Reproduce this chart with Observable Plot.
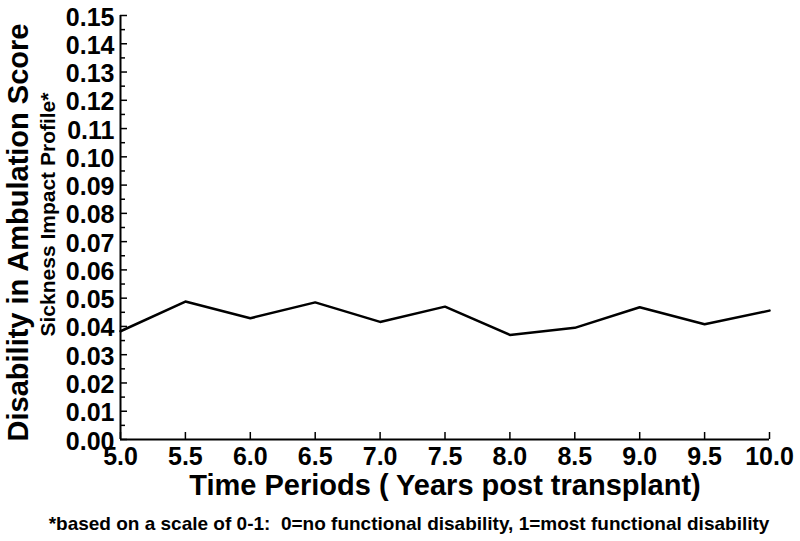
<!DOCTYPE html>
<html>
<head>
<meta charset="utf-8">
<script src="https://cdn.jsdelivr.net/npm/d3@7"></script>
<script src="https://cdn.jsdelivr.net/npm/@observablehq/plot@0.6"></script>
<style>
  html, body { margin: 0; padding: 0; background: #fff; }
  #chart svg { display: block; }
  #foot { font-family: "Liberation Sans", Arial, sans-serif; font-weight: bold; font-size: 19px;
          line-height: 28px; height: 31px; text-align: center; padding-left: 18px; color: #000;
          white-space: pre; }
</style>
</head>
<body>
<div id="chart"></div>
<div id="foot"></div>
<script>
const years = [5.0, 5.5, 6.0, 6.5, 7.0, 7.5, 8.0, 8.5, 9.0, 9.5, 10.0];
const scores = [0.0383, 0.0488, 0.0429, 0.0485, 0.0416, 0.0470, 0.0370, 0.0395, 0.0468, 0.0408, 0.0456];
const xTicks = [5.0, 5.5, 6.0, 6.5, 7.0, 7.5, 8.0, 8.5, 9.0, 9.5, 10.0];
const yTicks = [0.00, 0.01, 0.02, 0.03, 0.04, 0.05, 0.06, 0.07, 0.08, 0.09, 0.10, 0.11, 0.12, 0.13, 0.14, 0.15];
const yMinorTicks = [0.005, 0.015, 0.025, 0.035, 0.045, 0.055, 0.065, 0.075, 0.085, 0.095, 0.105, 0.115, 0.125, 0.135, 0.145];
const yTitle = "Disability in Ambulation Score";
const ySubtitle = "Sickness Impact Profile*";
const xTitle = "Time Periods ( Years post transplant)";
const footnote = "*based on a scale of 0-1:  0=no functional disability, 1=most functional disability";

const data = years.map((x, i) => ({x, y: scores[i]}));
const font = "'Liberation Sans', Arial, sans-serif";

const chart = Plot.plot({
  width: 800,
  height: 510,
  marginLeft: 120,
  marginRight: 31,
  marginTop: 15,
  marginBottom: 71,
  style: {fontFamily: font, fontWeight: "bold", color: "#000", background: "#fff", overflow: "visible"},
  x: {domain: [5, 10]},
  y: {domain: [0, 0.15]},
  marks: [
    Plot.axisY({ticks: yTicks, tickFormat: d3.format(".2f"), tickSize: 0, tickPadding: 6, fontSize: 25, fontWeight: "bold", dy: 2, label: null}),
    Plot.axisY({ticks: yTicks, tickSize: -7, text: null, strokeWidth: 1.5, label: null}),
    Plot.axisY({ticks: yMinorTicks, tickSize: -5, text: null, strokeWidth: 1.5, label: null}),
    Plot.axisX({ticks: xTicks, tickFormat: d3.format(".1f"), tickSize: 0, tickPadding: 8, fontSize: 25, fontWeight: "bold", label: null}),
    Plot.axisX({ticks: xTicks, tickSize: -7, text: null, strokeWidth: 1.5, label: null}),
    Plot.ruleX([5], {stroke: "#000", strokeWidth: 2}),
    Plot.ruleY([0], {stroke: "#000", strokeWidth: 2}),
    Plot.line(data, {x: "x", y: "y", stroke: "#000", strokeWidth: 2.5}),
    Plot.text([yTitle], {frameAnchor: "left", textAnchor: "middle", rotate: -90, dx: -102, dy: 5, fontSize: 29, fontWeight: "bold", fill: "#000"}),
    Plot.text([ySubtitle], {frameAnchor: "left", textAnchor: "middle", rotate: -90, dx: -72, dy: -13, fontSize: 21, fontWeight: "bold", fill: "#000"}),
    Plot.text([xTitle], {frameAnchor: "bottom", textAnchor: "middle", dy: 55, fontSize: 29, fontWeight: "bold", fill: "#000"})
  ]
});
document.getElementById("chart").appendChild(chart);
document.getElementById("foot").textContent = footnote;
</script>
</body>
</html>
